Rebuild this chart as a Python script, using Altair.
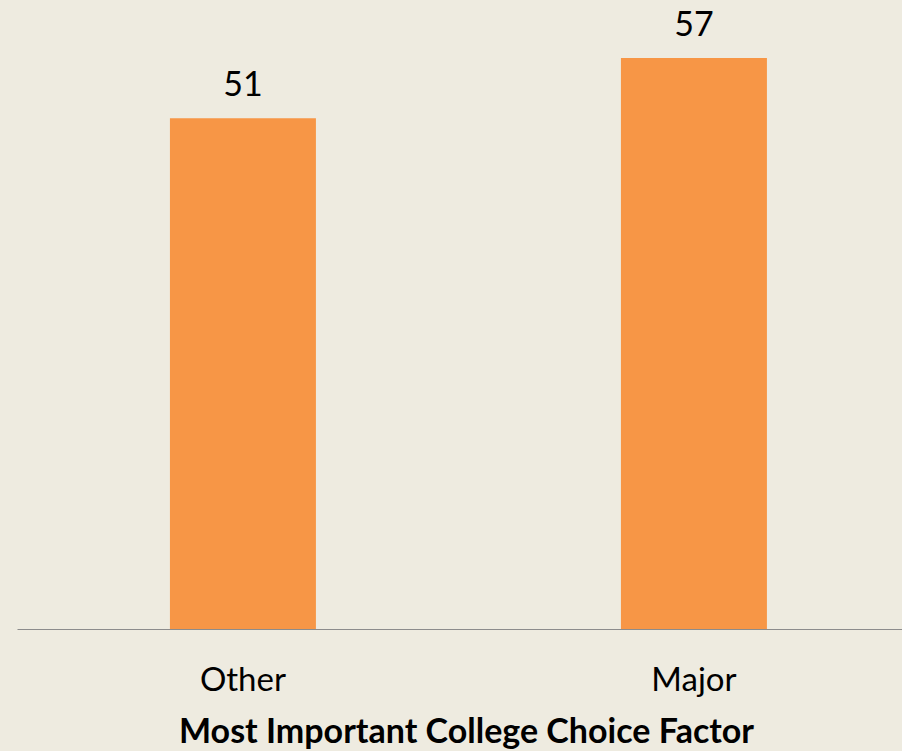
import altair as alt
import pandas as pd

categories = ["Other", "Major"]
values = [51, 57]
labels = ["51", "57"]

df = pd.DataFrame({"factor": categories, "value": values, "label": labels})

x_enc = alt.X(
    "factor:N",
    sort=categories,
    scale=alt.Scale(paddingInner=0.6763, paddingOuter=0.3193, align=0.531),
    axis=alt.Axis(
        title="Most Important College Choice Factor",
        titleFont="Lato",
        titleFontSize=34,
        titleFontWeight="bold",
        titleColor="#000000",
        titleBaseline="alphabetic",
        titleX=449,
        titleY=113,
        titleAnchor="middle",
        labelFont="Lato",
        labelFontSize=33,
        labelColor="#000000",
        labelBaseline="alphabetic",
        labelPadding=61,
        labelAngle=0,
        ticks=False,
        tickSize=0,
        domainColor="#8c8c8c",
        domainWidth=1,
        grid=False,
    ),
)
y_enc = alt.Y("value:Q", scale=alt.Scale(domain=[0, 60], nice=False, zero=True), axis=None)

bars = alt.Chart(df).mark_bar(color="#F79646").encode(x=x_enc, y=y_enc)
text = alt.Chart(df).mark_text(
    dy=-22, baseline="alphabetic", font="Lato", fontSize=34, color="#000000"
).encode(x=alt.X("factor:N", sort=categories), y="value:Q", text="label:N")

chart = (
    alt.layer(bars, text)
    .properties(
        width=885,
        height=601,
        background="#EEEBE0",
        padding={"left": 17, "top": 28, "right": 0, "bottom": 122},
        autosize=alt.AutoSizeParams(type="none"),
    )
    .configure_view(stroke=None)
)

chart.save("out.html", embed_options={"renderer": "svg", "actions": False})
